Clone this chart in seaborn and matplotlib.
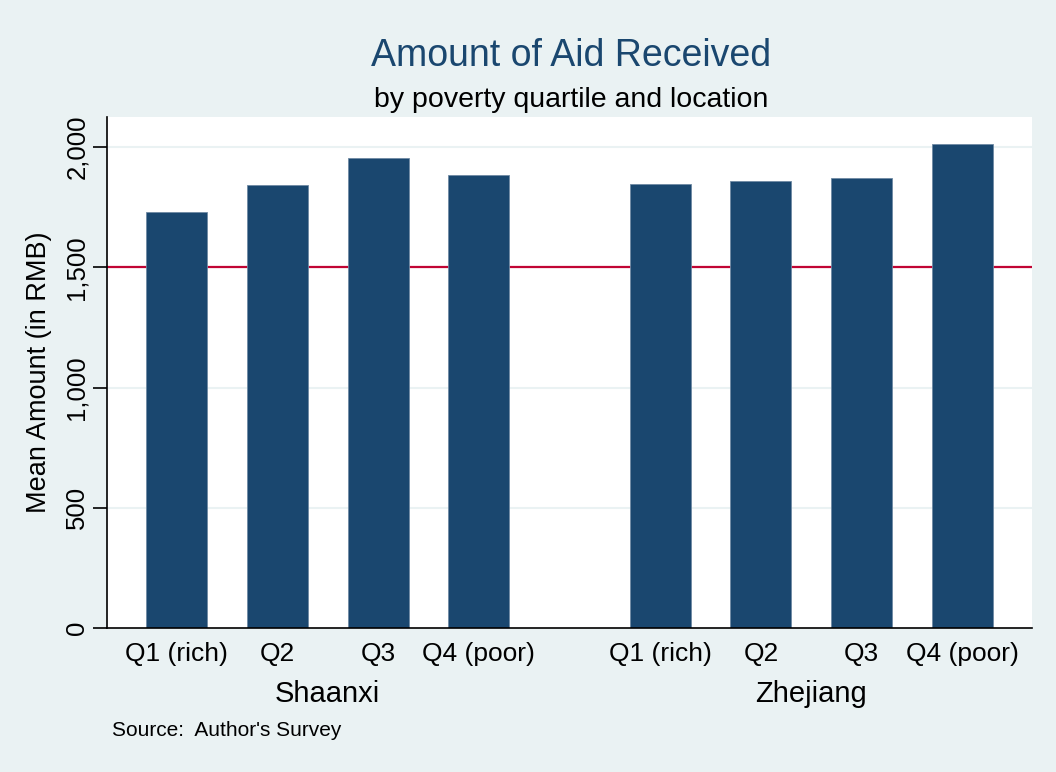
import matplotlib
matplotlib.use("Agg")
import matplotlib.pyplot as plt
import pandas as pd
import seaborn as sns
from matplotlib.ticker import FuncFormatter

# data
provinces = ["Shaanxi", "Zhejiang"]
quartiles = ["Q1 (rich)", "Q2", "Q3", "Q4 (poor)"]
shaanxi_amount = [1730, 1842, 1954, 1884]
zhejiang_amount = [1845, 1857, 1872, 2011]
reference_line = 1500

bg = "#eaf2f3"
bar_color = "#1a476f"
line_color = "#c10534"

rows = []
for g, (prov, vals) in enumerate(zip(provinces, [shaanxi_amount, zhejiang_amount])):
    for q, (lab, v) in enumerate(zip(quartiles, vals)):
        rows.append({"province": prov, "quartile": lab, "pos": g * 4.8 + q, "amount": v})
df = pd.DataFrame(rows)

sns.set_style("white")
plt.rcParams["font.family"] = ["Liberation Sans", "DejaVu Sans"]
plt.rcParams["text.color"] = "black"
plt.rcParams["xtick.color"] = "black"
plt.rcParams["ytick.color"] = "black"
plt.rcParams["axes.labelcolor"] = "black"

fig = plt.figure(figsize=(10.56, 7.72), dpi=100, facecolor=bg)
ax = fig.add_axes([0.1013, 0.1865, 0.876, 0.6619])
ax.set_facecolor("white")

for y in [500, 1000, 1500, 2000]:
    ax.axhline(y, color=bg, lw=1.5, zorder=0)
ax.axhline(reference_line, color=line_color, lw=1.6, zorder=1)

sns.barplot(data=df, x="pos", y="amount", native_scale=True, width=0.605,
            color=bar_color, saturation=1, edgecolor="#6f8aa3", linewidth=0.6,
            errorbar=None, ax=ax, zorder=2)

ax.set_xlim(-0.69, 8.49)
ax.set_ylim(0, 2125)
ax.set_yticks([0, 500, 1000, 1500, 2000])
ax.yaxis.set_major_formatter(FuncFormatter(lambda v, p: f"{int(v):,}"))
ax.tick_params(axis="y", length=10, width=1.2, color="black", labelsize=18.5,
               labelcolor="black", left=True, pad=3)
for t in ax.get_yticklabels():
    t.set_rotation(90)
    t.set_va("center")
ax.set_xticks(df["pos"])
ax.set_xticklabels(df["quartile"], fontsize=19)
ax.tick_params(axis="x", length=0, pad=10, labelcolor="black")
ax.set_xlabel("")
ax.set_ylabel("Mean Amount (in RMB)", fontsize=19.5, labelpad=9, color="black")

for s in ["top", "right"]:
    ax.spines[s].set_visible(False)
for s in ["left", "bottom"]:
    ax.spines[s].set_color("black")
    ax.spines[s].set_linewidth(1.2)

# group labels under the quartile labels
for g, prov in enumerate(provinces):
    center = df.loc[df["province"] == prov, "pos"].mean()
    ax.text(center, -0.13, prov, transform=ax.get_xaxis_transform(),
            ha="center", va="center", fontsize=21, color="black")

fig.text(0.5405, 0.928, "Amount of Aid Received", ha="center", va="center",
         fontsize=27, color=bar_color)
fig.text(0.5405, 0.871, "by poverty quartile and location", ha="center", va="center",
         fontsize=20.5, color="black")
fig.text(0.106, 0.054, "Source:  Author's Survey", ha="left", va="center",
         fontsize=15, color="black")

fig.savefig("out.png", dpi=100, facecolor=bg)
